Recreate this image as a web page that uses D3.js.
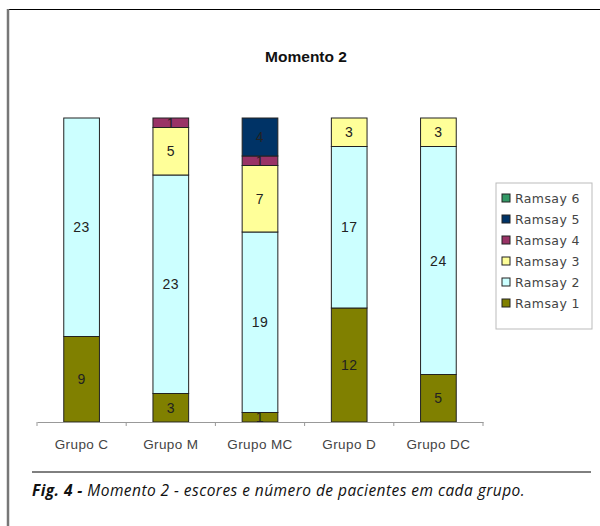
<!DOCTYPE html>
<html>
<head>
<meta charset="utf-8">
<script src="https://cdn.jsdelivr.net/npm/d3@7"></script>
<style>
  body { margin: 0; background: #fff; }
</style>
</head>
<body>
<div id="canvas"></div>
<script>
// categories and series (counts per group)
var groups = ["Grupo C", "Grupo M", "Grupo MC", "Grupo D", "Grupo DC"];
var series = ["Ramsay 1", "Ramsay 2", "Ramsay 3", "Ramsay 4", "Ramsay 5", "Ramsay 6"];
var ramsay1 = [9, 3, 1, 12, 5];
var ramsay2 = [23, 23, 19, 17, 24];
var ramsay3 = [0, 5, 7, 3, 3];
var ramsay4 = [0, 1, 1, 0, 0];
var ramsay5 = [0, 0, 4, 0, 0];
var ramsay6 = [0, 0, 0, 0, 0];
var colors = ["#808000", "#ccffff", "#ffff99", "#993366", "#003366", "#339966"];

var cols = [ramsay1, ramsay2, ramsay3, ramsay4, ramsay5, ramsay6];
var table = groups.map(function(g, i) {
  var row = {group: g};
  series.forEach(function(s, j) { row[s] = cols[j][i]; });
  return row;
});

var W = 600, H = 526;
var svg = d3.select("#canvas").append("svg")
  .attr("width", W).attr("height", H)
  .style("font-family", "Arial, 'Liberation Sans', sans-serif");

// frame
svg.append("line").attr("x1", 8).attr("x2", W).attr("y1", 9.5).attr("y2", 9.5)
  .attr("stroke", "#000").attr("stroke-width", 1.2);
svg.append("line").attr("x1", 8).attr("x2", 8).attr("y1", 9).attr("y2", H)
  .attr("stroke", "#777").attr("stroke-width", 2.5);

svg.append("text")
  .attr("x", 306).attr("y", 62)
  .attr("text-anchor", "middle")
  .attr("font-size", 15.5).attr("font-weight", "bold").attr("fill", "#111")
  .text("Momento 2");

var x = d3.scaleBand().domain(groups).range([37, 483]).padding(0);
var y = d3.scaleLinear().domain([0, 1]).range([422, 118]);
var barW = x.bandwidth() * 0.4;

var stack = d3.stack().keys(series).offset(d3.stackOffsetExpand);
var stacked = stack(table);

var layer = svg.append("g").selectAll("g")
  .data(stacked)
  .enter().append("g")
    .attr("fill", function(d, i) { return colors[i]; });

layer.selectAll("rect")
  .data(function(d) { return d.filter(function(p) { return p[1] - p[0] > 0; }); })
  .enter().append("rect")
    .attr("x", function(d) { return x(d.data.group) + (x.bandwidth() - barW) / 2; })
    .attr("y", function(d) { return y(d[1]); })
    .attr("width", barW)
    .attr("height", function(d) { return y(d[0]) - y(d[1]); })
    .attr("stroke", "#222").attr("stroke-width", 1);

layer.selectAll("text")
  .data(function(d) {
    var key = d.key;
    return d.filter(function(p) { return p[1] - p[0] > 0; })
      .map(function(p) { p.key = key; return p; });
  })
  .enter().append("text")
    .attr("x", function(d) { return x(d.data.group) + x.bandwidth() / 2; })
    .attr("y", function(d) { return (y(d[0]) + y(d[1])) / 2; })
    .attr("dy", "0.36em")
    .attr("text-anchor", "middle")
    .attr("font-size", 14)
    .attr("letter-spacing", 0.5)
    .attr("fill", "#222")
    .text(function(d) { return d.data[d.key]; });

// x axis
var axis = svg.append("g")
  .attr("transform", "translate(0,422)")
  .call(d3.axisBottom(x).tickSize(0).tickPadding(17));
axis.select(".domain").attr("stroke", "#999");
axis.selectAll("text").attr("font-size", 13.5).attr("fill", "#444")
  .attr("font-family", "Arial, sans-serif").attr("letter-spacing", 0.4);
axis.selectAll(".sep")
  .data(groups.concat(["end"]))
  .enter().append("line")
    .attr("class", "sep")
    .attr("x1", function(d, i) { return 37 + i * x.step(); })
    .attr("x2", function(d, i) { return 37 + i * x.step(); })
    .attr("y1", 0).attr("y2", 4)
    .attr("stroke", "#999");

// legend
var legend = svg.append("g").attr("transform", "translate(496,183)");
legend.append("rect").attr("width", 96).attr("height", 146)
  .attr("fill", "#fff").attr("stroke", "#bbb");
var item = legend.selectAll(".item")
  .data(series.slice().reverse())
  .enter().append("g")
    .attr("transform", function(d, i) { return "translate(6," + (15 + i * 21) + ")"; });
item.append("rect")
  .attr("x", 0).attr("y", -4).attr("width", 8).attr("height", 8)
  .attr("fill", function(d) { return colors[series.indexOf(d)]; })
  .attr("stroke", "#222");
item.append("text")
  .attr("x", 13).attr("dy", "0.36em")
  .attr("font-size", 12.5).attr("fill", "#444")
  .attr("font-family", "'DejaVu Sans', sans-serif")
  .attr("letter-spacing", 0.4)
  .text(function(d) { return d; });

// caption
svg.append("line").attr("x1", 32).attr("x2", 591).attr("y1", 472).attr("y2", 472)
  .attr("stroke", "#000").attr("stroke-width", 1);
var cap = svg.append("text")
  .attr("x", 32).attr("y", 496)
  .attr("font-size", 15.5).attr("font-style", "italic").attr("fill", "#111")
  .attr("letter-spacing", 0.45)
  .attr("font-family", "'Open Sans', sans-serif");
cap.append("tspan").attr("font-weight", "bold").text("Fig. 4 - ");
cap.append("tspan").text("Momento 2 - escores e número de pacientes em cada grupo.");
</script>
</body>
</html>
